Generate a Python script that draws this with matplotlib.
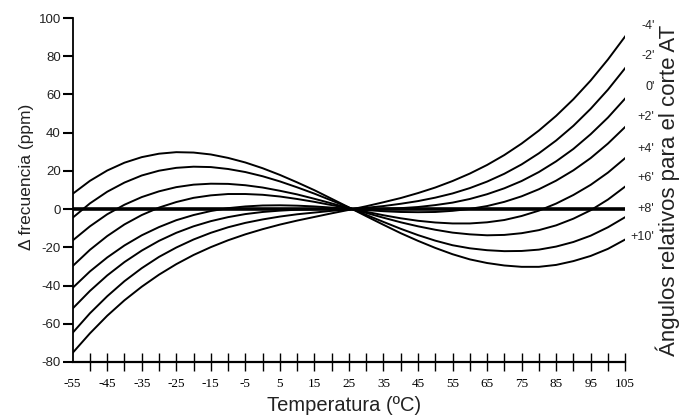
import matplotlib
matplotlib.use("Agg")
import matplotlib.pyplot as plt
import numpy as np

# temperature (ºC) and frequency deviation (ppm)
temps = list(range(-55, 106, 5))

angle_labels = ["+10'", "+8'", "+6'", "+4'", "+2'", "0'", "-2'", "-4'"]

curve_p10 = [8.0, 14.8, 20.2, 24.3, 27.2, 29.0, 29.8, 29.6, 28.6, 26.8, 24.4, 21.4, 17.9, 14.0, 9.9, 5.4, 0.9,
             -3.7, -8.2, -12.6, -16.6, -20.3, -23.6, -26.3, -28.2, -29.5, -30.2, -30.2, -29.2, -27.2, -24.5, -20.8, -15.9]
curve_p8 = [-4.5, 3.0, 9.1, 13.9, 17.6, 20.1, 21.6, 22.2, 22.0, 21.0, 19.4, 17.2, 14.5, 11.4, 8.1, 4.5, 0.8,
            -3.0, -6.7, -10.3, -13.6, -16.5, -18.9, -20.5, -21.5, -22.0, -21.9, -21.2, -19.6, -17.2, -13.9, -9.5, -4.2]
curve_p6 = [-16.4, -9.0, -2.7, 2.3, 6.3, 9.3, 11.5, 12.8, 13.3, 13.2, 12.5, 11.3, 9.6, 7.7, 5.4, 3.0, 0.5,
            -2.0, -4.5, -6.9, -9.0, -10.8, -12.3, -13.2, -13.7, -13.5, -12.6, -11.0, -8.5, -5.0, -0.6, 5.0, 11.8]
curve_p4 = [-29.8, -21.3, -14.1, -8.0, -3.1, 0.8, 3.7, 5.9, 7.2, 7.9, 7.9, 7.5, 6.6, 5.3, 3.8, 2.1, 0.4,
            -1.4, -3.2, -4.8, -6.1, -7.0, -7.5, -7.5, -6.9, -5.7, -3.6, -0.8, 2.9, 7.4, 12.7, 19.1, 26.7]
curve_p2 = [-41.2, -32.6, -25.3, -19.0, -13.7, -9.4, -5.8, -3.1, -1.0, 0.5, 1.4, 1.9, 2.0, 1.8, 1.4, 0.8, 0.1,
            -0.5, -1.1, -1.5, -1.6, -1.5, -0.9, 0.1, 1.6, 3.8, 6.7, 10.4, 14.9, 20.3, 26.7, 34.3, 43.0]
curve_0 = [-52.0, -42.8, -34.7, -27.7, -21.7, -16.6, -12.4, -9.0, -6.3, -4.2, -2.6, -1.5, -0.8, -0.3, -0.1, 0.0, 0.0,
           0.0, 0.2, 0.5, 1.1, 2.1, 3.4, 5.3, 7.8, 10.9, 14.7, 19.4, 25.0, 31.5, 39.2, 47.9, 57.9]
curve_m2 = [-64.7, -54.5, -45.6, -37.7, -30.9, -25.0, -20.1, -15.9, -12.4, -9.5, -7.2, -5.4, -3.9, -2.7, -1.8, -0.9, -0.2,
            0.7, 1.6, 2.8, 4.2, 6.0, 8.2, 11.0, 14.4, 18.5, 23.4, 29.2, 35.9, 43.6, 52.5, 62.5, 73.8]
curve_m4 = [-75.2, -65.0, -55.8, -47.7, -40.6, -34.3, -28.8, -24.0, -19.9, -16.3, -13.2, -10.5, -8.1, -6.0, -4.1, -2.2, -0.4,
            1.5, 3.6, 5.8, 8.4, 11.3, 14.7, 18.6, 23.1, 28.3, 34.3, 41.1, 48.8, 57.5, 67.3, 78.3, 90.4]

curves = [curve_p10, curve_p8, curve_p6, curve_p4, curve_p2, curve_0, curve_m2, curve_m4]

# where the angle labels sit at the right (ppm)
label_y = [-14.8, 0, 16.5, 31.5, 48, 64, 80, 96]

x_ticks = list(range(-55, 106, 10))
x_minor = list(range(-50, 101, 10))
y_ticks = list(range(-80, 101, 20))

fig = plt.figure(figsize=(6.85, 4.17), dpi=100)
ax = fig.add_axes([0.1061, 0.1319, 0.8066, 0.8249])

ax.plot([-55, 105], [0, 0], color="black", lw=2.6, solid_capstyle="butt")
for c in curves:
    ax.plot(temps, c, color="black", lw=1.4)

ax.set_xlim(-55, 105)
ax.set_ylim(-80, 100)

for s in ["top", "right"]:
    ax.spines[s].set_visible(False)
ax.spines["left"].set_linewidth(1.3)
ax.spines["bottom"].set_linewidth(1.6)

ax.set_xticks(x_ticks)
ax.set_xticks(x_minor, minor=True)
ax.set_xticklabels([str(t) for t in x_ticks], family="Liberation Serif", fontsize=9.5)
ax.tick_params(axis="x", which="both", direction="inout", length=13, width=1.0, pad=5, color="black")
ax.xaxis.get_major_ticks()[0].tick1line.set_visible(False)

ax.set_yticks(y_ticks)
ax.set_yticklabels([str(t) for t in y_ticks], family="Liberation Sans", fontsize=9.5, color="#222222")
ax.tick_params(axis="y", direction="out", length=7.5, width=1.5, pad=1)

for lab, y in zip(angle_labels, label_y):
    ax.text(113.5, y, lab, ha="right", va="center", fontsize=9, family="Liberation Sans",
            color="#222222", clip_on=False)

fig.text(344 / 685, 1 - 411 / 417, "Temperatura (ºC)", ha="center", va="baseline",
         fontsize=14.5, family="Liberation Sans", color="#222222")
fig.text(26 / 685, 1 - 177 / 417, "Δ frecuencia (ppm)", ha="center", va="center", rotation=90,
         fontsize=12.5, family="Liberation Sans", color="#222222")
fig.text(668 / 685, 1 - 190 / 417, "Ángulos relativos para el corte AT", ha="center", va="center",
         rotation=90, fontsize=16, family="Liberation Sans", color="#222222")

fig.savefig("out.png", dpi=100)
